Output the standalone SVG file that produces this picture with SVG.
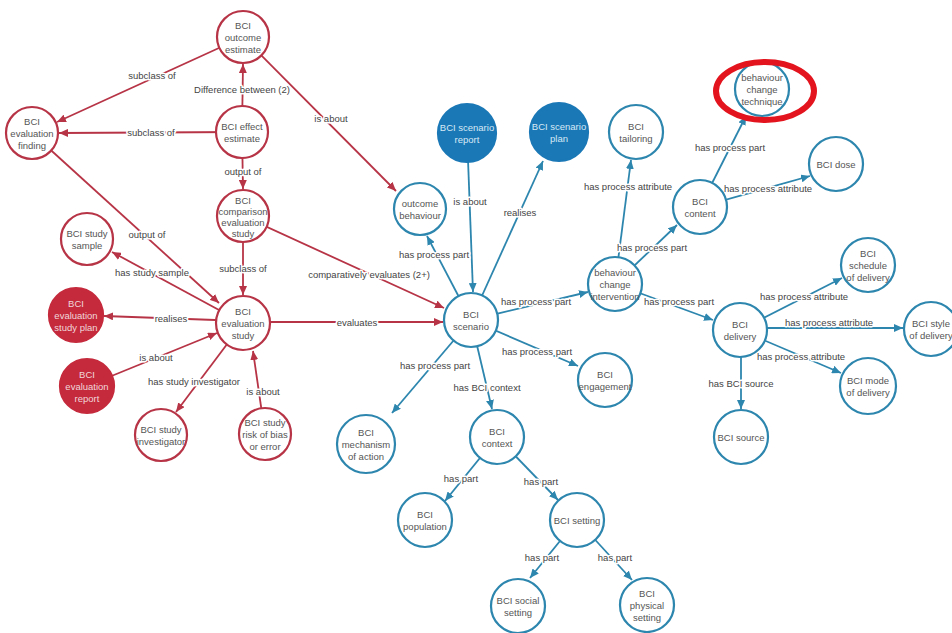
<svg xmlns="http://www.w3.org/2000/svg" width="952" height="633" viewBox="0 0 952 633">
<style>
.bg{fill:#fff}
.er{stroke:#b73446;stroke-width:1.8;fill:none;marker-end:url(#ar)}
.eb{stroke:#2d86ae;stroke-width:1.8;fill:none;marker-end:url(#ab)}
.nr{fill:#fff;stroke:#b73446;stroke-width:2.2}
.nrf{fill:#c52a3c;stroke:#c52a3c;stroke-width:2.2}
.nb{fill:#fff;stroke:#2d86ae;stroke-width:2.2}
.nbf{fill:#1b78b6;stroke:#1b78b6;stroke-width:2.2}
text{font-family:"Liberation Sans",Arial,sans-serif;font-size:9.5px;text-anchor:middle;dominant-baseline:central}
.t{fill:#555}
.tw{fill:#f0d6da}
.twb{fill:#d6e8f5}
.lb{fill:#444;stroke:#fff;stroke-width:3;paint-order:stroke;stroke-linejoin:round}
</style>
<defs>
<marker id="ar" markerUnits="userSpaceOnUse" markerWidth="10" markerHeight="8" refX="9" refY="4" orient="auto"><path d="M0,0 L9,4 L0,8 z" fill="#b73446"/></marker>
<marker id="ab" markerUnits="userSpaceOnUse" markerWidth="10" markerHeight="8" refX="9" refY="4" orient="auto"><path d="M0,0 L9,4 L0,8 z" fill="#2d86ae"/></marker>
</defs>
<rect class="bg" width="952" height="633"/>
<g id="connectors">
<line class="er" x1="243" y1="37" x2="57" y2="122"/>
<line class="er" x1="242" y1="132" x2="243" y2="64"/>
<line class="er" x1="242" y1="132" x2="59" y2="133"/>
<line class="er" x1="242" y1="132" x2="243" y2="189"/>
<line class="er" x1="243" y1="37" x2="396" y2="191"/>
<line class="er" x1="32" y1="133" x2="219" y2="303"/>
<line class="er" x1="243" y1="323" x2="112" y2="252"/>
<line class="er" x1="243" y1="216" x2="243" y2="295"/>
<line class="er" x1="243" y1="216" x2="444" y2="308"/>
<line class="er" x1="243" y1="321" x2="104" y2="316"/>
<line class="er" x1="87" y1="386" x2="217" y2="333"/>
<line class="er" x1="243" y1="323" x2="176" y2="412"/>
<line class="er" x1="265" y1="434" x2="253" y2="351"/>
<line class="er" x1="243" y1="322" x2="443" y2="322"/>
<line class="eb" x1="471" y1="320" x2="427" y2="236"/>
<line class="eb" x1="467" y1="133" x2="473" y2="292"/>
<line class="eb" x1="471" y1="320" x2="543" y2="161"/>
<line class="eb" x1="471" y1="320" x2="588" y2="292"/>
<line class="eb" x1="471" y1="320" x2="578" y2="366"/>
<line class="eb" x1="471" y1="320" x2="392" y2="413"/>
<line class="eb" x1="471" y1="320" x2="492" y2="409"/>
<line class="eb" x1="497" y1="437" x2="445" y2="501"/>
<line class="eb" x1="497" y1="437" x2="558" y2="500"/>
<line class="eb" x1="577" y1="520" x2="530" y2="578"/>
<line class="eb" x1="577" y1="520" x2="632" y2="580"/>
<line class="eb" x1="615" y1="284" x2="631" y2="160"/>
<line class="eb" x1="615" y1="284" x2="677" y2="225"/>
<line class="eb" x1="615" y1="284" x2="713" y2="320"/>
<line class="eb" x1="700" y1="207" x2="746" y2="116"/>
<line class="eb" x1="700" y1="207" x2="810" y2="176"/>
<line class="eb" x1="740" y1="330" x2="842" y2="278"/>
<line class="eb" x1="740" y1="328" x2="903" y2="328"/>
<line class="eb" x1="740" y1="330" x2="841" y2="373"/>
<line class="eb" x1="741" y1="330" x2="741" y2="409"/>
<g id="edge-labels">
<text class="lb" x="152" y="75">subclass of</text>
<text class="lb" x="242" y="89">Difference between (2)</text>
<text class="lb" x="151" y="132">subclass of</text>
<text class="lb" x="243" y="171">output of</text>
<text class="lb" x="331" y="118">is about</text>
<text class="lb" x="147" y="234">output of</text>
<text class="lb" x="152" y="272">has study sample</text>
<text class="lb" x="243" y="268">subclass of</text>
<text class="lb" x="369" y="274">comparatively evaluates (2+)</text>
<text class="lb" x="171" y="318">realises</text>
<text class="lb" x="156" y="357">is about</text>
<text class="lb" x="194" y="381">has study investigator</text>
<text class="lb" x="263" y="391">is about</text>
<text class="lb" x="357" y="322">evaluates</text>
<text class="lb" x="434" y="254">has process part</text>
<text class="lb" x="470" y="201">is about</text>
<text class="lb" x="520" y="212">realises</text>
<text class="lb" x="536" y="301">has process part</text>
<text class="lb" x="537" y="351">has process part</text>
<text class="lb" x="435" y="365">has process part</text>
<text class="lb" x="487" y="387">has BCI context</text>
<text class="lb" x="461" y="478">has part</text>
<text class="lb" x="541" y="481">has part</text>
<text class="lb" x="542" y="557">has part</text>
<text class="lb" x="615" y="557">has part</text>
<text class="lb" x="628" y="186">has process attribute</text>
<text class="lb" x="652" y="247">has process part</text>
<text class="lb" x="679" y="301">has process part</text>
<text class="lb" x="730" y="147">has process part</text>
<text class="lb" x="768" y="188">has process attribute</text>
<text class="lb" x="804" y="296">has process attribute</text>
<text class="lb" x="829" y="322">has process attribute</text>
<text class="lb" x="801" y="356">has process attribute</text>
<text class="lb" x="741" y="383">has BCI source</text>
</g>
</g>
<g id="n-outcome-estimate"><circle class="nr" cx="243" cy="37" r="26"/><text class="t" x="243" y="25">BCI</text><text class="t" x="243" y="37">outcome</text><text class="t" x="243" y="49">estimate</text></g>
<g id="n-evaluation-finding"><circle class="nr" cx="32" cy="133" r="26"/><text class="t" x="32" y="121">BCI</text><text class="t" x="32" y="133">evaluation</text><text class="t" x="32" y="145">finding</text></g>
<g id="n-effect-estimate"><circle class="nr" cx="242" cy="132" r="26"/><text class="t" x="242" y="126">BCI effect</text><text class="t" x="242" y="138">estimate</text></g>
<g id="n-comparison-study"><circle class="nr" cx="243" cy="216" r="26"/><text class="t" x="243" y="200">BCI</text><text class="t" x="243" y="211">comparison</text><text class="t" x="243" y="222">evaluation</text><text class="t" x="243" y="233">study</text></g>
<g id="n-evaluation-study"><circle class="nr" cx="243" cy="323" r="27"/><text class="t" x="243" y="311">BCI</text><text class="t" x="243" y="323">evaluation</text><text class="t" x="243" y="335">study</text></g>
<g id="n-study-sample"><circle class="nr" cx="87" cy="239" r="26"/><text class="t" x="87" y="233">BCI study</text><text class="t" x="87" y="245">sample</text></g>
<g id="n-study-plan"><circle class="nrf" cx="76" cy="315" r="27"/><text class="tw" x="76" y="303">BCI</text><text class="tw" x="76" y="315">evaluation</text><text class="tw" x="76" y="327">study plan</text></g>
<g id="n-evaluation-report"><circle class="nrf" cx="87" cy="386" r="27"/><text class="tw" x="87" y="374">BCI</text><text class="tw" x="87" y="386">evaluation</text><text class="tw" x="87" y="398">report</text></g>
<g id="n-study-investigator"><circle class="nr" cx="161" cy="435" r="26"/><text class="t" x="161" y="429">BCI study</text><text class="t" x="161" y="441">investigator</text></g>
<g id="n-risk-of-bias"><circle class="nr" cx="265" cy="434" r="26"/><text class="t" x="265" y="422">BCI study</text><text class="t" x="265" y="434">risk of bias</text><text class="t" x="265" y="446">or error</text></g>
<g id="n-outcome-behaviour"><circle class="nb" cx="420" cy="209" r="26"/><text class="t" x="420" y="203">outcome</text><text class="t" x="420" y="215">behaviour</text></g>
<g id="n-scenario-report"><circle class="nbf" cx="467" cy="133" r="29"/><text class="twb" x="467" y="127">BCI scenario</text><text class="twb" x="467" y="139">report</text></g>
<g id="n-scenario-plan"><circle class="nbf" cx="559" cy="132" r="29"/><text class="twb" x="559" y="126">BCI scenario</text><text class="twb" x="559" y="138">plan</text></g>
<g id="n-scenario"><circle class="nb" cx="471" cy="320" r="27"/><text class="t" x="471" y="314">BCI</text><text class="t" x="471" y="326">scenario</text></g>
<g id="n-tailoring"><circle class="nb" cx="636" cy="132" r="27"/><text class="t" x="636" y="126">BCI</text><text class="t" x="636" y="138">tailoring</text></g>
<g id="n-bct"><circle class="nb" cx="762" cy="89" r="27"/><text class="t" x="762" y="77">behaviour</text><text class="t" x="762" y="89">change</text><text class="t" x="762" y="101">technique</text></g>
<g id="n-dose"><circle class="nb" cx="836" cy="164" r="27"/><text class="t" x="836" y="164">BCI dose</text></g>
<g id="n-content"><circle class="nb" cx="700" cy="207" r="27"/><text class="t" x="700" y="201">BCI</text><text class="t" x="700" y="213">content</text></g>
<g id="n-intervention"><circle class="nb" cx="615" cy="284" r="27"/><text class="t" x="615" y="272">behaviour</text><text class="t" x="615" y="284">change</text><text class="t" x="615" y="296">intervention</text></g>
<g id="n-schedule"><circle class="nb" cx="868" cy="265" r="27"/><text class="t" x="868" y="253">BCI</text><text class="t" x="868" y="265">schedule</text><text class="t" x="868" y="277">of delivery</text></g>
<g id="n-delivery"><circle class="nb" cx="740" cy="330" r="27"/><text class="t" x="740" y="324">BCI</text><text class="t" x="740" y="336">delivery</text></g>
<g id="n-style"><circle class="nb" cx="931" cy="329" r="27"/><text class="t" x="931" y="323">BCI style</text><text class="t" x="931" y="335">of delivery</text></g>
<g id="n-mode"><circle class="nb" cx="868" cy="386" r="28"/><text class="t" x="868" y="380">BCI mode</text><text class="t" x="868" y="392">of delivery</text></g>
<g id="n-source"><circle class="nb" cx="741" cy="437" r="27"/><text class="t" x="741" y="437">BCI source</text></g>
<g id="n-engagement"><circle class="nb" cx="605" cy="380" r="27"/><text class="t" x="605" y="374">BCI</text><text class="t" x="605" y="386">engagement</text></g>
<g id="n-mechanism"><circle class="nb" cx="366" cy="444" r="29"/><text class="t" x="366" y="432">BCI</text><text class="t" x="366" y="444">mechanism</text><text class="t" x="366" y="456">of action</text></g>
<g id="n-context"><circle class="nb" cx="497" cy="437" r="27"/><text class="t" x="497" y="431">BCI</text><text class="t" x="497" y="443">context</text></g>
<g id="n-population"><circle class="nb" cx="425" cy="520" r="27"/><text class="t" x="425" y="514">BCI</text><text class="t" x="425" y="526">population</text></g>
<g id="n-setting"><circle class="nb" cx="577" cy="520" r="27"/><text class="t" x="577" y="520">BCI setting</text></g>
<g id="n-social-setting"><circle class="nb" cx="518" cy="606" r="27"/><text class="t" x="518" y="600">BCI social</text><text class="t" x="518" y="612">setting</text></g>
<g id="n-physical-setting"><circle class="nb" cx="647" cy="605" r="27"/><text class="t" x="647" y="593">BCI</text><text class="t" x="647" y="605">physical</text><text class="t" x="647" y="617">setting</text></g>
<g id="highlight"><ellipse cx="765" cy="91" rx="49" ry="29" fill="none" stroke="#e3141d" stroke-width="6"/></g>
</svg>
